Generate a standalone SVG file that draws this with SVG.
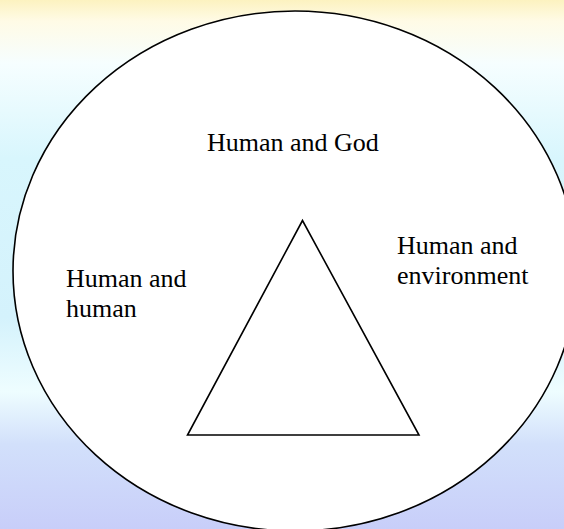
<svg xmlns="http://www.w3.org/2000/svg" width="564" height="529" viewBox="0 0 564 529">
  <defs>
    <linearGradient id="bg" x1="0" y1="0" x2="0" y2="1">
      <stop offset="0" stop-color="#fcf2c0"/>
      <stop offset="0.04" stop-color="#fffbe6"/>
      <stop offset="0.12" stop-color="#f6feff"/>
      <stop offset="0.3" stop-color="#d8f6fd"/>
      <stop offset="0.6" stop-color="#d4f2fc"/>
      <stop offset="0.74" stop-color="#eefdff"/>
      <stop offset="0.84" stop-color="#d2e0fb"/>
      <stop offset="1" stop-color="#c8cef9"/>
    </linearGradient>
    <style>
      .lbl { font-family: "Liberation Serif", "Times New Roman", serif; font-size: 26px; fill: #000; }
      .shape { fill: #fff; stroke: #000; stroke-width: 1.6; }
    </style>
  </defs>
  <rect x="0" y="0" width="564" height="529" fill="url(#bg)"/>
  <g id="circle">
    <ellipse class="shape" cx="295" cy="271" rx="282" ry="260"/>
  </g>
  <g id="triangle">
    <polygon class="shape" points="302.5,220.5 187.5,435 419,435" stroke-linejoin="miter"/>
  </g>
  <g id="label-god">
    <text class="lbl" x="207" y="151">Human and God</text>
  </g>
  <g id="label-human">
    <text class="lbl" x="66" y="287">Human and</text>
    <text class="lbl" x="66" y="317">human</text>
  </g>
  <g id="label-environment">
    <text class="lbl" x="397" y="254">Human and</text>
    <text class="lbl" x="397" y="284">environment</text>
  </g>
</svg>
